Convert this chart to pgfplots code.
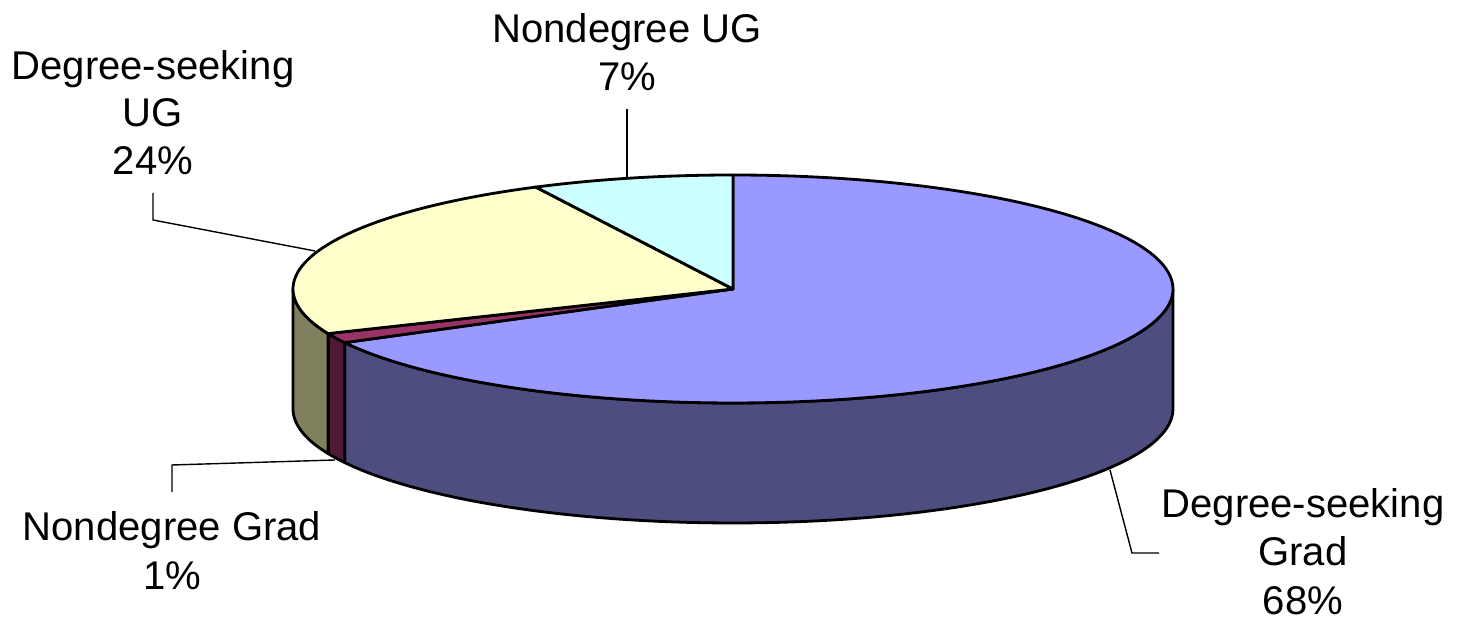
\documentclass[border=0pt]{standalone}
\usepackage{pgfplots}
\pgfplotsset{compat=1.18}
\usepgfplotslibrary{fillbetween}
\usepackage{fontspec}
\setmainfont{Liberation Sans}
\definecolor{gradtop}{HTML}{9999FF}
\definecolor{gradside}{HTML}{4D4D7F}
\definecolor{ndgtop}{HTML}{993366}
\definecolor{ndgside}{HTML}{4D1933}
\definecolor{ugtop}{HTML}{FFFFCC}
\definecolor{ugside}{HTML}{80805F}
\definecolor{nugtop}{HTML}{CCFFFF}
\tikzset{lbl/.style={anchor=base, inner sep=0pt, font=\fontsize{11.4}{13.5}\selectfont}}
% shares (percent), clockwise from the top
\def\vA{67.2}% Degree-seeking Grad
\def\vB{1.4}%  Nondegree Grad
\def\vC{24.0}% Degree-seeking UG
\def\vD{7.4}%  Nondegree UG
\pgfmathsetmacro\aA{90}
\pgfmathsetmacro\aB{\aA-3.6*\vA}
\pgfmathsetmacro\aC{\aB-3.6*\vB}
\pgfmathsetmacro\aD{\aC-3.6*\vC}
\pgfmathsetmacro\aE{\aD-3.6*\vD}
\begin{document}
\begin{tikzpicture}
\begin{axis}[hide axis, scale only axis, width=14.6cm, height=6.21cm,
  xmin=0, xmax=1460, ymin=0, ymax=621, clip=false]
\addplot[draw=none] coordinates {(0,0) (1460,621)};
% ---- side faces (front half: -180..0)
\addplot[name path=gt, draw=none, domain=\aB:0, samples=80, variable=\t] ({733+440*cos(t)}, {332+114*sin(t)});
\addplot[name path=gb, draw=none, domain=\aB:0, samples=80, variable=\t] ({733+440*cos(t)}, {212+114*sin(t)});
\addplot[fill=gradside, draw=black, line width=0.8pt, line join=round] fill between[of=gt and gb];
\addplot[name path=mt, draw=none, domain=\aC:\aB, samples=10, variable=\t] ({733+440*cos(t)}, {332+114*sin(t)});
\addplot[name path=mb, draw=none, domain=\aC:\aB, samples=10, variable=\t] ({733+440*cos(t)}, {212+114*sin(t)});
\addplot[fill=ndgside, draw=black, line width=0.8pt, line join=round] fill between[of=mt and mb];
\addplot[name path=ut, draw=none, domain=-180:\aC, samples=20, variable=\t] ({733+440*cos(t)}, {332+114*sin(t)});
\addplot[name path=ub, draw=none, domain=-180:\aC, samples=20, variable=\t] ({733+440*cos(t)}, {212+114*sin(t)});
\addplot[fill=ugside, draw=black, line width=0.8pt, line join=round] fill between[of=ut and ub];
% ---- top faces
\addplot[fill=gradtop, draw=black, line width=0.8pt, line join=round, domain=\aB:\aA, samples=150, variable=\t]
  ({733+440*cos(t)}, {332+114*sin(t)}) -- (733,332) -- cycle;
\addplot[fill=ndgtop, draw=black, line width=0.8pt, line join=round, domain=\aC:\aB, samples=10, variable=\t]
  ({733+440*cos(t)}, {332+114*sin(t)}) -- (733,332) -- cycle;
\addplot[fill=ugtop, draw=black, line width=0.8pt, line join=round, domain=\aD:\aC, samples=80, variable=\t]
  ({733+440*cos(t)}, {332+114*sin(t)}) -- (733,332) -- cycle;
\addplot[fill=nugtop, draw=black, line width=0.8pt, line join=round, domain=\aE:\aD, samples=30, variable=\t]
  ({733+440*cos(t)}, {332+114*sin(t)}) -- (733,332) -- cycle;
% ---- leader lines
\addplot[black, line width=0.4pt] coordinates {(627,444) (627,512)};
\addplot[black, line width=0.4pt] coordinates {(315,370) (153,401) (153,428)};
\addplot[black, line width=0.4pt] coordinates {(335,161) (172,156) (172,129)};
\addplot[black, line width=0.4pt] coordinates {(1110,151) (1132,68) (1159,68)};
% ---- labels
\node[lbl] at (axis cs:627,578) {Nondegree UG};
\node[lbl] at (axis cs:627,530) {7\%};
\node[lbl] at (axis cs:153,541) {Degree-seeking};
\node[lbl] at (axis cs:153,494) {UG};
\node[lbl] at (axis cs:153,446) {24\%};
\node[lbl] at (axis cs:172,80) {Nondegree Grad};
\node[lbl] at (axis cs:172,31) {1\%};
\node[lbl] at (axis cs:1303,103) {Degree-seeking};
\node[lbl] at (axis cs:1303,55) {Grad};
\node[lbl] at (axis cs:1303,6) {68\%};
\end{axis}
\end{tikzpicture}
\end{document}
